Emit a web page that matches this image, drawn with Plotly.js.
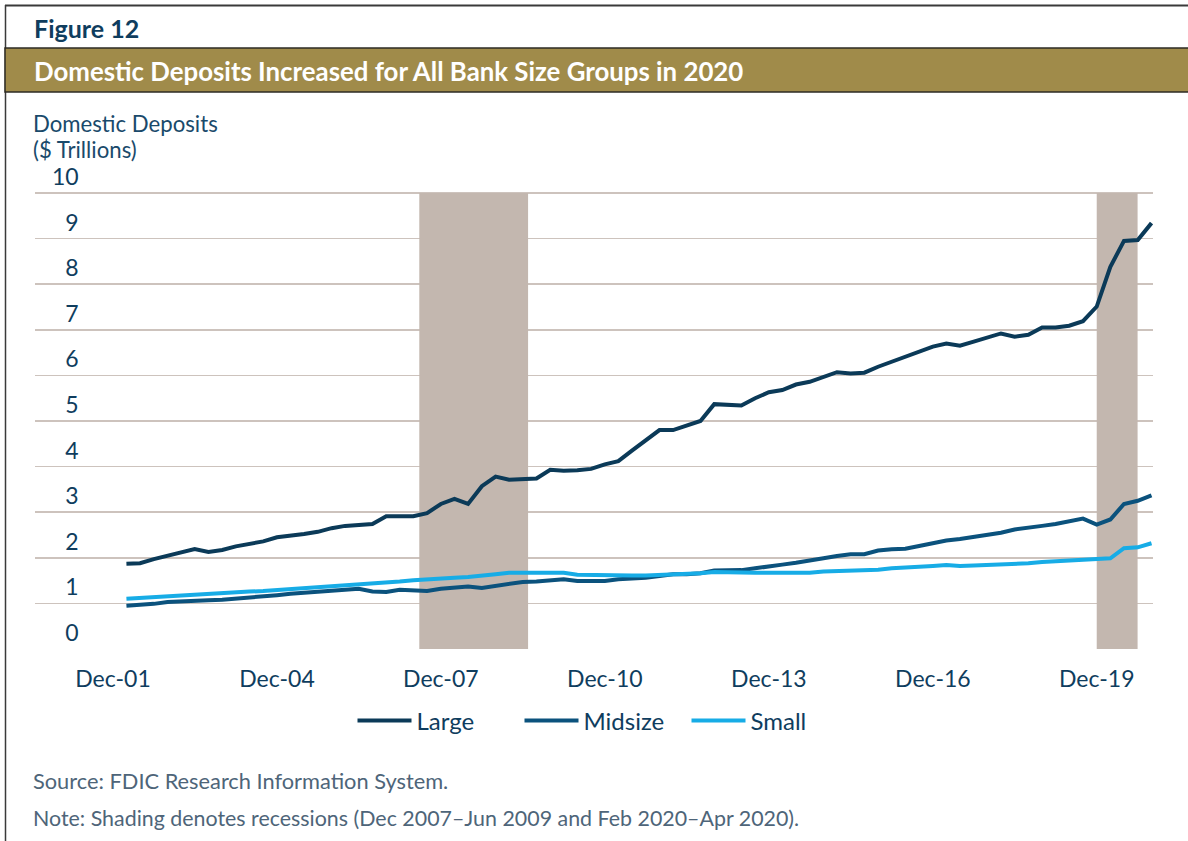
<!DOCTYPE html>
<html>
<head>
<meta charset="utf-8">
<script src="https://cdn.plot.ly/plotly-3.0.1.min.js"></script>
<style>
  html, body { margin: 0; padding: 0; background: #ffffff; }
  #chart { width: 1188px; height: 841px; }
</style>
</head>
<body>
<div id="chart"></div>
<script>
// Quarter-end dates, Mar-02 through Dec-20
const years = [2002,2003,2004,2005,2006,2007,2008,2009,2010,2011,2012,2013,2014,2015,2016,2017,2018,2019,2020];
const quarterEnds = ['03-31','06-30','09-30','12-31'];

// Domestic deposits, $ trillions
const large = [1.87,1.88,1.97,2.04,2.10,2.19,2.13,2.17,2.25,2.31,2.36,2.45,2.48,2.52,2.57,2.65,2.70,2.72,2.74,
  2.91,2.92,2.91,2.98,3.18,3.29,3.18,3.57,3.78,3.71,3.73,3.74,3.93,3.91,3.92,
  3.95,4.05,4.12,4.35,4.57,4.80,4.80,4.90,5.00,5.37,5.35,5.34,5.50,5.63,5.68,5.80,5.86,5.97,6.07,6.04,6.06,6.19,6.30,6.42,
  6.53,6.63,6.70,6.65,6.74,6.83,6.92,6.85,6.89,7.05,7.05,7.09,7.19,7.51,8.38,8.95,8.97,9.34];
const midsize = [0.95,0.96,0.99,1.03,1.05,1.06,1.07,1.08,1.10,1.12,1.16,1.18,1.21,1.23,1.26,1.28,1.30,1.32,
  1.26,1.25,1.30,1.29,1.27,1.32,1.34,1.37,1.34,1.38,1.43,1.47,1.48,1.50,1.53,1.49,
  1.48,1.49,1.53,1.54,1.56,1.60,1.64,1.64,1.66,1.72,1.72,1.73,1.77,1.80,1.85,1.89,1.93,1.99,2.04,2.08,2.08,2.16,2.19,2.20,
  2.26,2.33,2.38,2.41,2.45,2.50,2.55,2.62,2.65,2.70,2.74,2.79,2.86,2.73,2.84,3.18,3.25,3.37];
const small = [1.10,1.12,1.14,1.16,1.18,1.20,1.21,1.23,1.24,1.26,1.27,1.29,1.31,1.33,1.36,1.38,1.40,1.41,1.44,1.46,1.48,
  1.51,1.52,1.54,1.56,1.58,1.60,1.64,1.67,1.67,1.67,1.68,1.67,1.63,
  1.62,1.62,1.62,1.61,1.61,1.62,1.64,1.64,1.66,1.69,1.68,1.66,1.67,1.67,1.67,1.66,1.67,1.70,1.71,1.70,1.72,1.74,1.77,1.78,
  1.80,1.82,1.84,1.82,1.83,1.84,1.85,1.86,1.88,1.91,1.93,1.93,1.95,1.97,1.99,2.21,2.23,2.32];

const seriesNames = ['Large','Midsize','Small'];
const xTickVals = ['2001-12-31','2004-12-31','2007-12-31','2010-12-31','2013-12-31','2016-12-31','2019-12-31'];
const xTickText = ['Dec-01','Dec-04','Dec-07','Dec-10','Dec-13','Dec-16','Dec-19'];
const yTickVals = [0,1,2,3,4,5,6,7,8,9,10];
const yTickText = ['\u20070','\u20071','\u20072','\u20073','\u20074','\u20075','\u20076','\u20077','\u20078','\u20079','10'];
const recessions = [['2007-08-09','2009-08-05'],['2019-12-31','2020-09-29']];

const dates = [];
years.forEach(y => quarterEnds.forEach(q => dates.push(y + '-' + q)));

const FONT = 'Source Sans Pro, Lato, sans-serif';
const NAVY = '#0f3d5e';
const colors = ['#0b3a58','#0b527d','#17ace6'];
const values = [large, midsize, small];

const traces = values.map((v, i) => ({
  type: 'scatter', mode: 'lines', name: seriesNames[i],
  x: dates, y: v,
  line: { color: colors[i], width: 4, shape: 'linear' },
  hoverinfo: 'skip'
}));

// pixel -> paper helpers (plot area x: 35..1153, y: TOP..649; value 0 at 649, 10 at 193)
const TOP = 140, BOT = 649;
const px = x => (x - 35) / 1118;
const py = y => (BOT - y) / (BOT - TOP);
const yTop = (BOT - TOP) / 45.6;

const shapes = [
  { type: 'line', xref: 'paper', yref: 'paper', x0: px(5), x1: px(1200), y0: py(5.5), y1: py(5.5), line: { color: '#3a3a3a', width: 2 } },
  { type: 'line', xref: 'paper', yref: 'paper', x0: px(5.5), x1: px(5.5), y0: py(5), y1: py(850), line: { color: '#3a3a3a', width: 1.5 } },
  { type: 'rect', xref: 'paper', yref: 'paper', x0: px(5), x1: px(1200), y0: py(92), y1: py(48), fillcolor: '#a08b4a', line: { color: '#2d2b24', width: 1.5 } }
].concat(recessions.map(r => ({
  type: 'rect', xref: 'x', yref: 'y', x0: r[0], x1: r[1], y0: 0, y1: 10,
  fillcolor: '#c3b7af', line: { width: 0 }, layer: 'between'
})));

const annotations = [
  { text: '<b>Figure 12</b>', xref: 'paper', yref: 'paper', x: px(32), y: py(28), xanchor: 'left', yanchor: 'middle', showarrow: false, font: { family: FONT, size: 25, color: NAVY } },
  { text: '<b>Domestic Deposits Increased for All Bank Size Groups in 2020</b>', xref: 'paper', yref: 'paper', x: px(32), y: py(71), xanchor: 'left', yanchor: 'middle', showarrow: false, font: { family: FONT, size: 25.8, color: '#ffffff' } },
  { text: 'Domestic Deposits', xref: 'paper', yref: 'paper', x: px(31), y: py(124), xanchor: 'left', yanchor: 'middle', align: 'left', showarrow: false, font: { family: FONT, size: 22.2, color: '#1a4a6b' } },
  { text: '($ Trillions)', xref: 'paper', yref: 'paper', x: px(31), y: py(149), xanchor: 'left', yanchor: 'middle', align: 'left', showarrow: false, font: { family: FONT, size: 22.2, color: '#1a4a6b' } },
  { text: 'Source: FDIC Research Information System.', xref: 'paper', yref: 'paper', x: px(31), y: py(780), xanchor: 'left', yanchor: 'middle', showarrow: false, font: { family: FONT, size: 21.8, color: '#4e6579' } },
  { text: 'Note: Shading denotes recessions (Dec 2007\u2013Jun 2009 and Feb 2020\u2013Apr 2020).', xref: 'paper', yref: 'paper', x: px(31), y: py(818), xanchor: 'left', yanchor: 'middle', showarrow: false, font: { family: FONT, size: 21.4, color: '#4e6579' } }
];

const layout = {
  width: 1188, height: 841,
  margin: { l: 35, r: 35, t: TOP, b: 841 - BOT, pad: 0 },
  paper_bgcolor: '#ffffff', plot_bgcolor: '#ffffff',
  font: { family: FONT, color: NAVY },
  showlegend: true,
  legend: {
    orientation: 'h', x: px(603), xanchor: 'center', y: py(721), yanchor: 'middle',
    font: { family: FONT, size: 24, color: NAVY }, itemwidth: 54, entrywidth: 98,
    bgcolor: 'rgba(0,0,0,0)'
  },
  xaxis: {
    type: 'date', range: ['2000-07-28','2021-01-10'],
    tickvals: xTickVals, ticktext: xTickText,
    showgrid: false, zeroline: false, showline: false, ticks: '',
    ticklabelstandoff: 14,
    tickfont: { family: FONT, size: 23, color: NAVY }
  },
  yaxis: {
    range: [0, yTop], tickvals: yTickVals, ticktext: yTickText,
    showgrid: true, gridcolor: '#cdc3bd', gridwidth: 1.5,
    zeroline: false, showline: false, ticks: '',
    ticklabelposition: 'inside top', ticklabelstandoff: 14,
    tickfont: { family: FONT, size: 23, color: NAVY }
  },
  shapes: shapes,
  annotations: annotations,
  hovermode: false
};

Plotly.newPlot('chart', traces, layout, { displayModeBar: false, staticPlot: true });
</script>
</body>
</html>
